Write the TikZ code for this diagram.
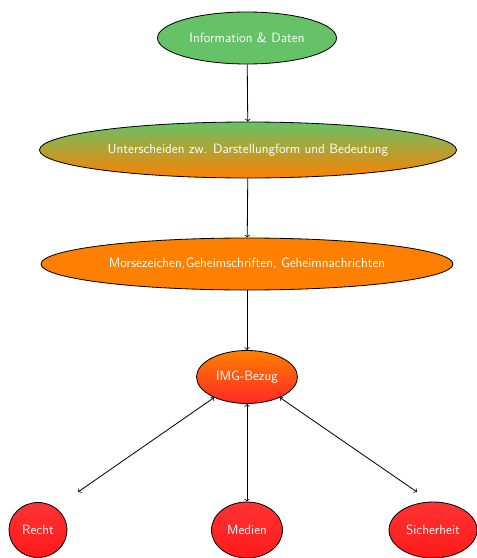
\documentclass[tikz,border=0pt]{standalone}
\usetikzlibrary{shapes.geometric}
\usetikzlibrary{positioning}

\definecolor{topicgreen}{RGB}{102,194,102}
\definecolor{topicorange}{RGB}{255,128,0}
\definecolor{topicred}{RGB}{255,40,40}

\tikzset{
  topic/.style={ellipse,draw=black,line width=0.7pt,inner sep=0pt,
    font=\sffamily\fontsize{11.5}{14}\selectfont,text=white},
  link/.style={->,black,line width=0.7pt},
  bilink/.style={<->,black,line width=0.7pt}
}

\begin{document}
\begin{tikzpicture}[x=0.03cm,y=-0.03cm]
\useasboundingbox (0,0) rectangle (477,558);

\node[topic,fill=topicgreen,minimum width=5.37cm,minimum height=1.56cm] (info) at (247,38) {Information \& Daten};
\node[topic,top color=topicgreen,bottom color=topicorange,minimum width=12.51cm,minimum height=1.68cm] (unter) at (248,150) {Unterscheiden zw. Darstellungform und Bedeutung};
\node[topic,fill=topicorange,minimum width=12.36cm,minimum height=1.56cm] (morse) at (247,264) {Morsezeichen,Geheimschriften, Geheimnachrichten};
\node[topic,top color=topicorange,bottom color=topicred,minimum width=3.03cm,minimum height=1.59cm] (img) at (247,377) {IMG-Bezug};

\node[topic,top color=red!80,bottom color=red!90,minimum width=1.74cm,minimum height=1.65cm] (recht) at (38,530) {Recht};
\node[topic,top color=red!80,bottom color=red!90,minimum width=2.13cm,minimum height=1.68cm] (medien) at (247,530) {Medien};
\node[topic,top color=red!80,bottom color=red!90,minimum width=2.64cm,minimum height=1.68cm] (sicher) at (433,530) {Sicherheit};

\coordinate (rechtend) at (78,492);
\coordinate (sicherend) at (417,492);

\draw[link] (info) -- (unter);
\draw[link] (unter) -- (morse);
\draw[link] (morse) -- (img);
\draw[bilink] (img.212) -- (rechtend);
\draw[bilink] (img) -- (medien);
\draw[bilink] (img.328) -- (sicherend);

\end{tikzpicture}
\end{document}
